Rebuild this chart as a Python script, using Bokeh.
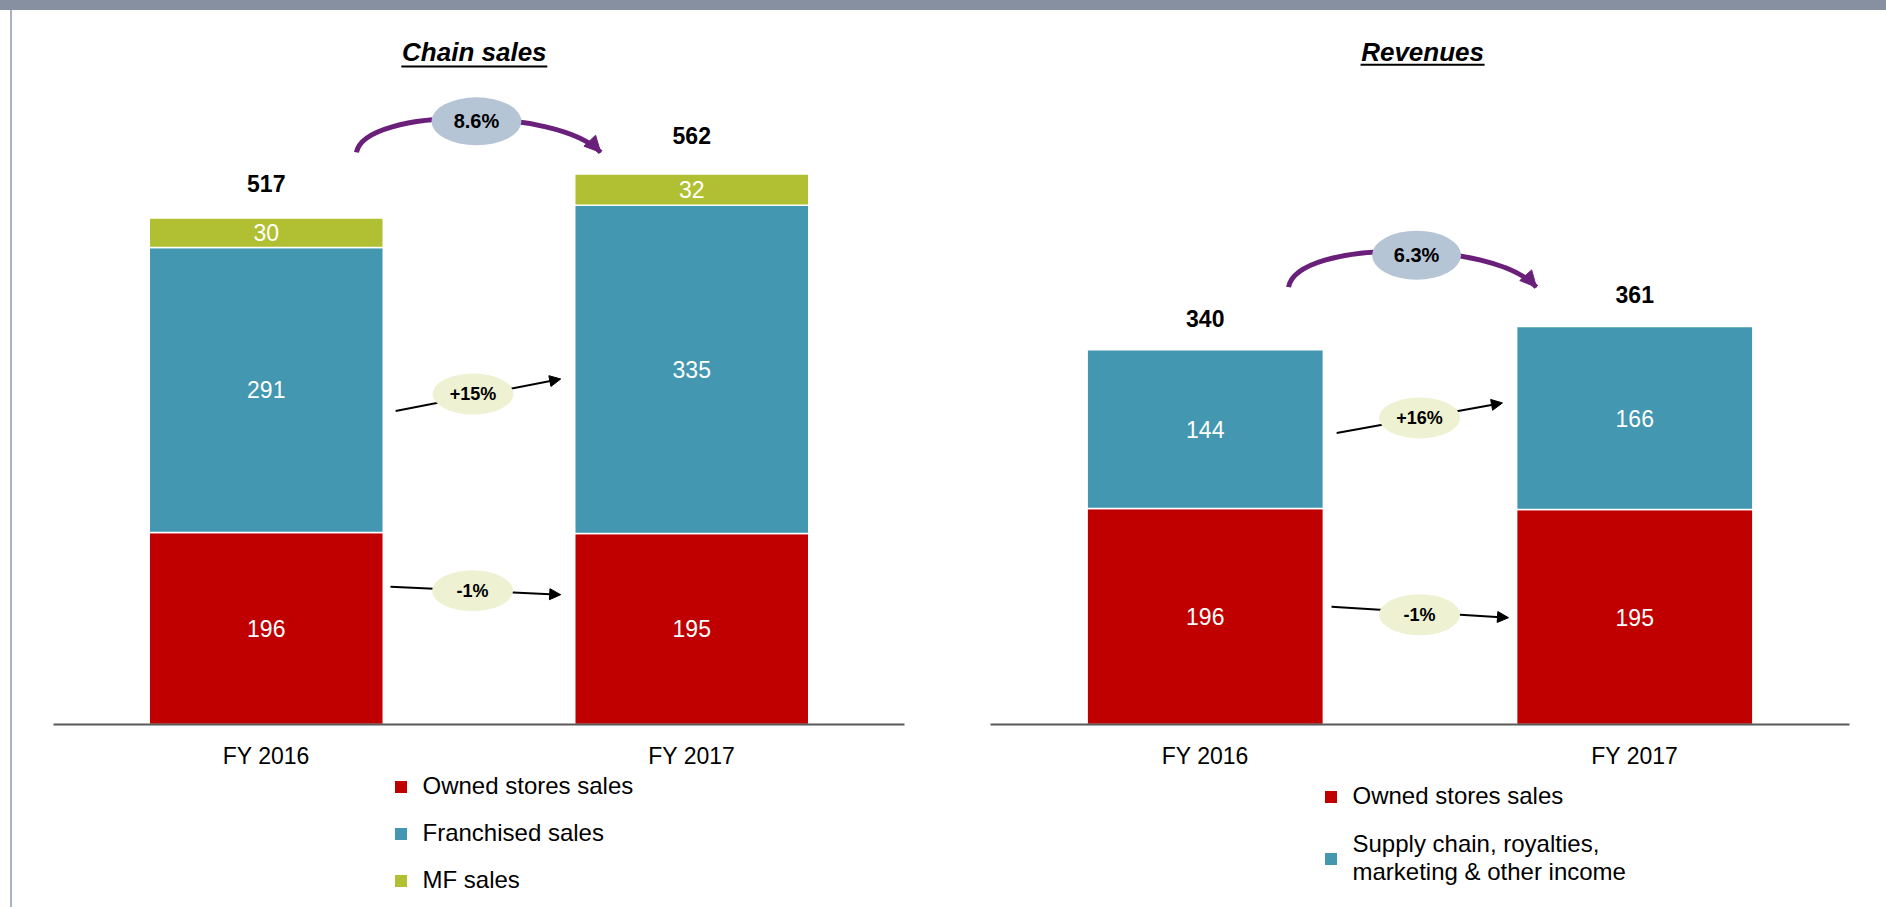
from bokeh.plotting import figure
from bokeh.models import (Range1d, FixedTicker, Legend, LegendItem, Arrow, NormalHead,
                          Div, ColumnDataSource)
from bokeh.layouts import row, column
from bokeh.core.properties import value
from bokeh.embed import file_html
from bokeh.resources import INLINE

# ---------------- data ----------------
years = ["FY 2016", "FY 2017"]

chain_owned = [196, 195]
chain_franchised = [291, 335]
chain_mf = [30, 32]

rev_owned = [196, 195]
rev_supply = [144, 166]

chain_total_growth = "8.6%"
rev_total_growth = "6.3%"
chain_segment_growth = ["-1%", "+15%"]   # owned, franchised
rev_segment_growth = ["-1%", "+16%"]     # owned, supply chain

chain_labels = ["Owned stores sales", "Franchised sales", "MF sales"]
rev_labels = ["Owned stores sales", "Supply chain, royalties,\nmarketing & other income"]

# ---------------- styles ----------------
RED = "#C00000"
TEAL = "#4397B0"
GREEN = "#B1BF33"
PURPLE = "#6A1F7B"
BUBBLE_BIG = "#B5C5D5"
BUBBLE_SMALL = "#EEF2D3"
FONT = "Liberation Sans"
FIG_H = 897
CHART_H = 761
FRAME_H = 715


def make_chart(title, names, colors, series, fig_w, border_l, border_r,
               px_per_unit, total_off_px, layout):
    ymax = FRAME_H / px_per_unit
    p = figure(width=fig_w, height=CHART_H, x_range=Range1d(-0.5, 1.5),
               y_range=Range1d(0, ymax), output_backend="svg",
               toolbar_location=None, y_axis_location=None,
               min_border_left=border_l, min_border_right=border_r,
               min_border_top=0, min_border_bottom=CHART_H - FRAME_H)
    p.grid.visible = False
    p.outline_line_color = None
    p.background_fill_color = "white"
    p.border_fill_color = "white"

    xs = list(range(len(years)))
    data = {"x": xs}
    for n, s in zip(names, series):
        data[n] = s
    src = ColumnDataSource(data)
    p.vbar_stack(names, x="x", width=0.55, fill_color=colors,
                 line_color="white", line_width=1.5, source=src)

    # segment value labels
    bottoms = [0] * len(xs)
    for s in series:
        mids = [b + v / 2 for b, v in zip(bottoms, s)]
        p.text(x=xs, y=mids, text=[str(v) for v in s], text_color="white",
               text_align="center", text_baseline="middle",
               text_font=value(FONT), text_font_size="23px")
        bottoms = [b + v for b, v in zip(bottoms, s)]
    totals = bottoms
    p.text(x=xs, y=[t + o / px_per_unit for t, o in zip(totals, total_off_px)],
           text=[str(t) for t in totals], text_color="black",
           text_align="center", text_baseline="middle", text_font=value(FONT),
           text_font_style="bold", text_font_size="23px")

    # title with underline
    tx, ty, tw, uy = layout["title"]
    p.text(x=[tx], y=[ty], text=[title], text_align="center",
           text_baseline="middle", text_font=value(FONT),
           text_font_style="bold italic", text_font_size="26px", text_color="black")
    p.rect(x=[tx], y=[uy], width=tw, height=2, width_units="screen",
           height_units="screen", fill_color="black", line_color=None)

    # curved total-growth arrow
    x0, x1, ye, cy = layout["arc"]
    cx0, cx1 = x0 + 0.02, x1 - 0.1
    p.bezier(x0=[x0], y0=[ye], x1=[x1], y1=[ye], cx0=[cx0], cy0=[cy],
             cx1=[cx1], cy1=[cy], line_color=PURPLE, line_width=5)
    f = 0.25
    head = Arrow(end=NormalHead(size=16, fill_color=PURPLE, line_color=PURPLE),
                 x_start=x1 - f * (x1 - cx1), y_start=ye + f * (cy - ye),
                 x_end=x1, y_end=ye, line_alpha=0, level="underlay")
    p.add_layout(head)
    bx, by, bw, bh, btxt = layout["bubble"]
    p.ellipse(x=[bx], y=[by], width=bw, height=bh, width_units="screen",
              height_units="screen", fill_color=BUBBLE_BIG, line_color=None)
    p.text(x=[bx], y=[by], text=[btxt], text_align="center", text_baseline="middle",
           text_font=value(FONT), text_font_style="bold", text_font_size="20px",
           text_color="black")

    # segment growth arrows
    for (sx, sy, ex, ey, ex_, ey_, txt) in layout["small"]:
        a = Arrow(end=NormalHead(size=11, fill_color="black", line_color="black"),
                  x_start=sx, y_start=sy, x_end=ex, y_end=ey,
                  line_color="black", line_width=2, level="underlay")
        p.add_layout(a)
        p.ellipse(x=[ex_], y=[ey_], width=81, height=41, width_units="screen",
                  height_units="screen", fill_color=BUBBLE_SMALL, line_color=None)
        p.text(x=[ex_], y=[ey_], text=[txt], text_align="center",
               text_baseline="middle", text_font=value(FONT),
               text_font_style="bold", text_font_size="18px", text_color="black")

    # x axis
    ax = p.xaxis[0]
    ax.ticker = FixedTicker(ticks=xs)
    ax.major_label_overrides = {i: y for i, y in zip(xs, years)}
    ax.axis_line_color = "#595959"
    ax.axis_line_width = 2
    ax.major_tick_line_color = None
    ax.minor_tick_line_color = None
    ax.major_label_standoff = 12
    ax.major_label_text_font = FONT
    ax.major_label_text_font_size = "23px"
    ax.major_label_text_color = "black"
    return p


def make_legend(labels, colors, fig_w, border_l, border_r, loc, spacing):
    q = figure(width=fig_w, height=FIG_H - CHART_H, x_range=Range1d(0, 1),
               y_range=Range1d(0, 1), output_backend="svg", toolbar_location=None,
               x_axis_location=None, y_axis_location=None,
               min_border_left=border_l, min_border_right=border_r,
               min_border_top=0, min_border_bottom=0)
    q.grid.visible = False
    q.outline_line_color = None
    q.border_fill_color = "white"
    q.background_fill_color = "white"
    # legend swatch proxies (zero-height, so nothing is drawn in the strip)
    rs = [q.vbar(x=[0.5], top=[0], bottom=[0], width=0.0, fill_color=c,
                 line_color=None)
          for c in colors]
    items = [LegendItem(label=l, renderers=[r]) for l, r in zip(labels, rs)]
    leg = Legend(items=items, location=loc, glyph_width=15, glyph_height=15,
                 label_standoff=15, spacing=spacing, padding=0, margin=0,
                 border_line_alpha=0, background_fill_alpha=0,
                 label_text_font=FONT, label_text_font_size="24px",
                 label_text_color="black", label_height=26)
    q.add_layout(leg)
    return q


left_layout = {
    "title": (0.489, 686.0, 146, 671.8),
    "arc": (0.212, 0.786, 584.0, 630.4),
    "bubble": (0.494, 615.7, 90, 48, chain_total_growth),
    "small": [
        (0.292, 140.7, 0.692, 132.5, 0.485, 136.6, chain_segment_growth[0]),
        (0.304, 320.1, 0.692, 352.7, 0.486, 337.4, chain_segment_growth[1]),
    ],
}
right_layout = {
    "title": (0.506, 609.6, 124, 598.5),
    "arc": (0.194, 0.771, 396.7, 440.2),
    "bubble": (0.492, 425.7, 89, 49, rev_total_growth),
    "small": [
        (0.294, 106.9, 0.706, 96.9, 0.499, 99.6, rev_segment_growth[0]),
        (0.306, 264.5, 0.692, 291.7, 0.499, 278.1, rev_segment_growth[1]),
    ],
}

p1 = make_chart("Chain sales", ["owned", "franchised", "mf"],
                [RED, TEAL, GREEN], [chain_owned, chain_franchised, chain_mf],
                931, 41, 39, 0.981, [35, 39], left_layout)
p2 = make_chart("Revenues", ["owned", "supply"],
                [RED, TEAL], [rev_owned, rev_supply],
                943, 47, 37, 1.104, [31, 32.5], right_layout)
l1 = make_legend(chain_labels, [RED, TEAL, GREEN], 931, 41, 39, (339.5, 13), 19)
l2 = make_legend(rev_labels, [RED, TEAL], 943, 47, 37, (332.5, 21), 20)

band = Div(text="", width=1886, height=10, margin=0,
           styles={"background-color": "#8690A0"})
spacer = Div(text="", width=10, height=FIG_H, margin=0)
vline = Div(text="", width=2, height=FIG_H, margin=0,
            styles={"background-color": "#AAB2BF"})

layout = column(band,
                row(spacer, vline, column(p1, l1, spacing=0),
                    column(p2, l2, spacing=0), spacing=0),
                spacing=0)

open("out.html", "w").write(file_html(layout, INLINE))
